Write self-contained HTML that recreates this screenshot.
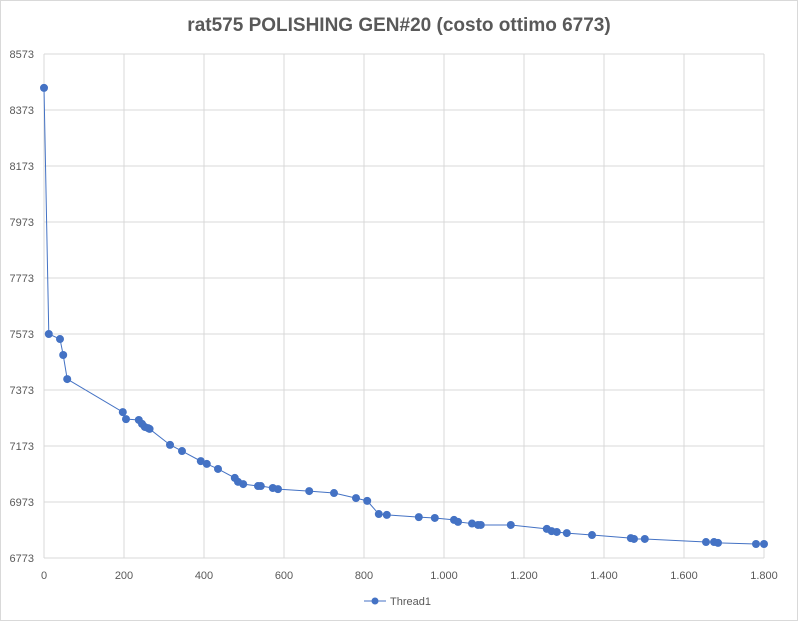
<!DOCTYPE html>
<html><head><meta charset="utf-8"><style>
body{margin:0;background:#fff;font-family:"Liberation Sans",sans-serif}
svg{display:block}
</style></head><body>
<svg id="c" width="798" height="621">
<rect x="0.5" y="0.5" width="797" height="620" fill="#fff" stroke="#d9d9d9"/>
<text x="399" y="31" text-anchor="middle" font-size="19" font-weight="bold" fill="#595959">rat575 POLISHING GEN#20 (costo ottimo 6773)</text>
<g id="grid"></g><g id="axes"></g><g id="series"></g>
<g>
<line x1="364" y1="601" x2="386" y2="601" stroke="#4472c4" stroke-width="1"/>
<circle cx="375" cy="601" r="3.5" fill="#4472c4"/>
<text x="390" y="605" font-size="11" fill="#595959">Thread1</text>
</g>
</svg>
<script>
const xTicks=[0,200,400,600,800,1000,1200,1400,1600,1800];
const xTickLabels=["0","200","400","600","800","1.000","1.200","1.400","1.600","1.800"];
const yTicks=[6773,6973,7173,7373,7573,7773,7973,8173,8373,8573];
const xs=[0,12,40,48,58,197,205,237,245,252,260,264,315,345,392,407,435,477,485,498,535,542,572,585,663,725,780,808,837,857,937,977,1025,1035,1070,1085,1092,1167,1257,1269,1282,1307,1370,1467,1475,1502,1655,1675,1685,1780,1800];
const ys=[8452,7573,7555,7498,7412,7294,7269,7266,7252,7241,7237,7234,7177,7155,7119,7109,7091,7059,7045,7037,7030,7030,7023,7019,7012,7005,6987,6977,6930,6927,6919,6916,6909,6902,6896,6891,6891,6891,6877,6869,6866,6862,6855,6844,6841,6841,6830,6830,6827,6823,6823];
const NS="http://www.w3.org/2000/svg";
const X=v=>44+(v-0)/1800*720, Y=v=>558-(v-6773)/1800*504;
function mk(t,a,p){const e=document.createElementNS(NS,t);for(const k in a)e.setAttribute(k,a[k]);p.appendChild(e);return e;}
const g=document.getElementById('grid'),ax=document.getElementById('axes'),s=document.getElementById('series');
xTicks.forEach((v,i)=>{const l=mk('line',{x1:X(v),x2:X(v),y1:54,y2:558,stroke:'#d9d9d9'},g);


const t=mk('text',{x:X(v),y:579,'text-anchor':'middle','font-size':'11',fill:'#595959'},ax);t.textContent=xTickLabels[i];

});
yTicks.forEach(v=>{const l=mk('line',{x1:44,x2:764,y1:Y(v),y2:Y(v),stroke:'#d9d9d9'},g);


const t=mk('text',{x:34,y:Y(v)+4,'text-anchor':'end','font-size':'11',fill:'#595959'},ax);t.textContent=v;

});
const pl=mk('polyline',{points:xs.map((v,i)=>X(v)+','+Y(ys[i])).join(' '),fill:'none',stroke:'#4472c4','stroke-width':1},s);


xs.forEach((v,i)=>{const c=mk('circle',{cx:X(v),cy:Y(ys[i]),r:4,fill:'#4472c4'},s);

});
</script>
</body></html>
